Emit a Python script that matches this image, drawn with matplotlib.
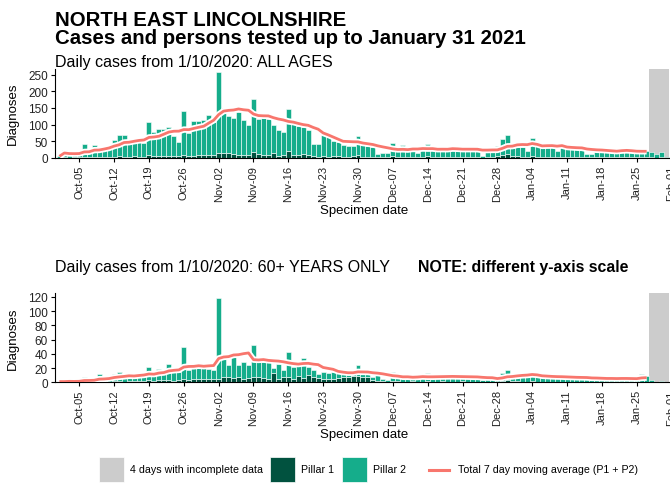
import matplotlib.pyplot as plt
import matplotlib.dates as mdates
import matplotlib.patheffects as pe
import matplotlib.patches as patches
import matplotlib.lines as mlines
import pandas as pd

plt.rcParams['font.family'] = ['Liberation Sans', 'DejaVu Sans']

# daily specimen dates, 1 Oct 2020 - 31 Jan 2021
dates = pd.date_range('2020-10-01', '2021-01-31', freq='D')
incomplete_days = 4

# all ages: total cases (P1 + P2) and pillar 1 cases
all_total = [
    5, 25, 10, 12, 15, 42, 22,
    39, 28, 30, 35, 54, 69, 70,
    45, 48, 48, 45, 107, 78, 86,
    88, 93, 65, 47, 140, 76, 112,
    112, 115, 130, 108, 258, 150, 127,
    120, 137, 113, 98, 178, 118, 122,
    118, 100, 85, 78, 147, 103, 95,
    93, 85, 41, 41, 68, 63, 50,
    48, 40, 36, 36, 66, 38, 35,
    32, 12, 14, 16, 45, 25, 38,
    26, 25, 14, 26, 42, 26, 25,
    27, 24, 26, 22, 35, 26, 25,
    26, 6, 26, 25, 36, 58, 68,
    30, 33, 33, 22, 60, 40, 36,
    34, 35, 22, 33, 30, 32, 30,
    30, 12, 12, 25, 26, 24, 22,
    22, 23, 18, 18, 16, 22, 22,
    18, 11, 18, 2,
]
all_p1 = [
    1, 2, 1, 2, 3, 2, 3,
    2, 3, 4, 3, 4, 5, 4,
    4, 5, 4, 4, 8, 5, 6,
    7, 6, 5, 6, 8, 6, 7,
    8, 9, 8, 10, 14, 15, 16,
    12, 10, 8, 9, 18, 12, 10,
    9, 14, 6, 10, 20, 10, 8,
    12, 10, 5, 4, 5, 4, 6,
    5, 4, 3, 5, 8, 4, 3,
    4, 2, 3, 3, 5, 4, 4,
    3, 4, 2, 3, 5, 4, 3,
    4, 3, 4, 3, 4, 3, 4,
    3, 1, 3, 4, 5, 8, 11,
    6, 5, 4, 3, 5, 4, 3,
    4, 3, 3, 4, 3, 3, 4,
    3, 2, 2, 3, 3, 4, 3,
    3, 3, 2, 2, 2, 3, 3,
    2, 1, 2, 0,
]

# 60+ years only
old_total = [
    1, 1, 2, 1, 2, 8, 3,
    3, 12, 4, 5, 12, 14, 8,
    9, 10, 9, 10, 22, 12, 19,
    14, 26, 15, 14, 50, 18, 20,
    20, 21, 19, 17, 119, 33, 24,
    36, 24, 29, 24, 53, 30, 28,
    28, 20, 26, 17, 43, 22, 23,
    34, 22, 18, 12, 15, 13, 14,
    14, 14, 12, 12, 24, 12, 13,
    7, 10, 5, 3, 15, 8, 6,
    7, 6, 7, 7, 13, 8, 7,
    8, 7, 8, 6, 12, 7, 6,
    7, 3, 5, 5, 4, 13, 17,
    10, 9, 10, 8, 10, 9, 8,
    7, 6, 8, 7, 8, 7, 6,
    6, 5, 4, 6, 6, 5, 6,
    5, 6, 4, 5, 5, 12, 9,
    3, 1, 2, 0,
]
old_p1 = [
    0, 0, 1, 0, 1, 1, 1,
    1, 1, 1, 1, 2, 2, 1,
    2, 2, 2, 2, 3, 2, 3,
    3, 3, 2, 3, 4, 3, 4,
    5, 4, 4, 5, 5, 8, 7,
    6, 7, 5, 6, 8, 7, 6,
    5, 13, 5, 8, 8, 5, 9,
    6, 10, 8, 6, 5, 5, 5,
    6, 7, 8, 9, 9, 8, 7,
    3, 2, 2, 1, 2, 2, 1,
    1, 2, 1, 1, 2, 1, 1,
    2, 1, 1, 1, 2, 1, 1,
    1, 0, 1, 1, 1, 2, 3,
    2, 2, 1, 1, 2, 1, 1,
    1, 1, 1, 1, 1, 1, 1,
    1, 1, 0, 1, 1, 1, 1,
    1, 1, 0, 1, 1, 1, 1,
    0, 0, 0, 0,
]

all_yticks = [0, 50, 100, 150, 200, 250]
old_yticks = [0, 20, 40, 60, 80, 100, 120]

P1_COL = '#01523f'
P2_COL = '#15ad8b'
MA_COL = '#f8766d'
GREY = '#cccccc'
TXT = '#222222'

W, H = 670, 485


def fx(x):
    return x / W


def fy(y):
    return 1 - y / H


def draw_panel(ax, total, p1, yticks, ymax):
    df = pd.DataFrame({'total': total, 'p1': p1}, index=dates)
    df['p2'] = df['total'] - df['p1']
    df['ma'] = df['total'].rolling(7, min_periods=1).mean()

    start = dates[-incomplete_days] - pd.Timedelta(hours=12)
    end = dates[-1] + pd.Timedelta(hours=12)
    ax.axvspan(start, end, color=GREY, lw=0, zorder=0)

    ax.bar(df.index, df['p1'], width=1, color=P1_COL, edgecolor='white',
           linewidth=0.4, zorder=2)
    ax.bar(df.index, df['p2'], bottom=df['p1'], width=1, color=P2_COL,
           edgecolor='white', linewidth=0.4, zorder=2)

    ma = df['ma'].iloc[:-incomplete_days]
    ax.plot(ma.index, ma.values, color=MA_COL, lw=2.0, zorder=3,
            solid_capstyle='butt',
            path_effects=[pe.Stroke(linewidth=4.6, foreground='white'), pe.Normal()])

    ax.set_ylim(0, ymax)
    ax.set_xlim(dates[0] - pd.Timedelta(days=0.88), dates[0] + pd.Timedelta(days=124.5))
    ax.set_yticks(yticks)
    ax.xaxis.set_major_locator(mdates.WeekdayLocator(byweekday=mdates.MO))
    ax.xaxis.set_major_formatter(mdates.DateFormatter('%b-%d'))
    ax.tick_params(axis='x', labelrotation=90, labelsize=8, length=3, width=0.8,
                   pad=2, colors='black', labelcolor=TXT)
    ax.tick_params(axis='y', labelsize=8.5, length=3, width=0.8, pad=2,
                   colors='black', labelcolor=TXT)
    for s in ['top', 'right']:
        ax.spines[s].set_visible(False)
    for s in ['left', 'bottom']:
        ax.spines[s].set_linewidth(0.8)
    ax.set_xlabel('Specimen date', fontsize=9.5, color='black')
    ax.xaxis.set_label_coords(0.495, -0.515)


fig = plt.figure(figsize=(W / 100, H / 100), dpi=100)
ax1 = fig.add_axes([fx(55), fy(159), fx(624), 89 / H])
ax2 = fig.add_axes([fx(55), fy(383.3), fx(624), 89 / H])

draw_panel(ax1, all_total, all_p1, all_yticks, 267)
draw_panel(ax2, old_total, old_p1, old_yticks, 125.2)

fig.text(fx(13), fy(113.5), 'Diagnoses', rotation=90, ha='center', va='center', fontsize=9.5)
fig.text(fx(13), fy(339), 'Diagnoses', rotation=90, ha='center', va='center', fontsize=9.5)

# headings
fig.text(fx(55), fy(26), 'NORTH EAST LINCOLNSHIRE', fontsize=14.7,
         fontweight='bold', va='baseline')
fig.text(fx(55), fy(44), 'Cases and persons tested up to January 31 2021',
         fontsize=14.7, fontweight='bold', va='baseline')
fig.text(fx(55), fy(67.5), 'Daily cases from 1/10/2020: ALL AGES', fontsize=11.5,
         va='baseline')
fig.text(fx(55), fy(272), 'Daily cases from 1/10/2020: 60+ YEARS ONLY', fontsize=11.5,
         va='baseline')
fig.text(fx(418), fy(272), 'NOTE: different y-axis scale', fontsize=11.4,
         fontweight='bold', va='baseline')

# legend along the bottom
ly = 470.5
box = 25
items = [(99, GREY, '4 days with incomplete data', 130),
         (270, P1_COL, 'Pillar 1', 301),
         (342, P2_COL, 'Pillar 2', 373)]
for x0, col, label, tx in items:
    fig.add_artist(patches.Rectangle((fx(x0), fy(ly + box / 2)), box / W, box / H,
                                     transform=fig.transFigure, facecolor=col,
                                     edgecolor='white', lw=0.5))
    fig.text(fx(tx), fy(ly), label, fontsize=7.7, va='center')
fig.add_artist(mlines.Line2D([fx(429), fx(449)], [fy(ly), fy(ly)], color=MA_COL,
                             lw=2.2, transform=fig.transFigure))
fig.text(fx(458), fy(ly), 'Total 7 day moving average (P1 + P2)', fontsize=7.7,
         va='center')

fig.savefig('out.png', dpi=100)
